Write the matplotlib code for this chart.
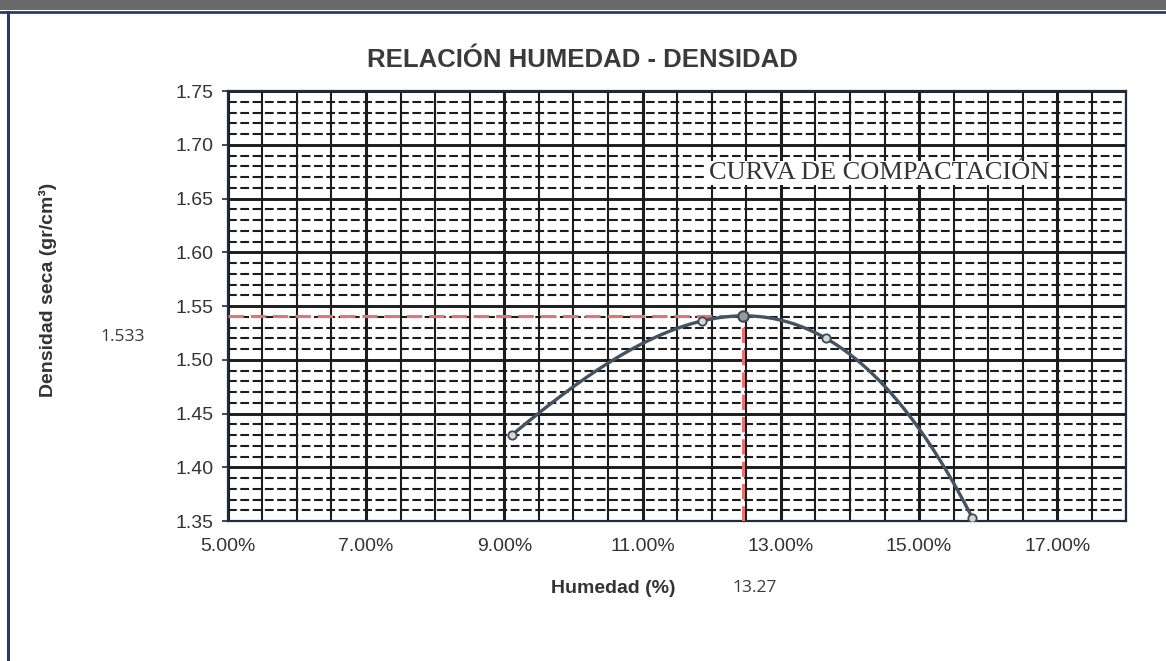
import numpy as np
import matplotlib
matplotlib.use("Agg")
import matplotlib.pyplot as plt
from matplotlib.ticker import MultipleLocator, FuncFormatter
from matplotlib.patches import Rectangle
from matplotlib.lines import Line2D

plt.rcParams['font.family'] = ['Liberation Sans', 'DejaVu Sans']

# data
humedad = [9.11, 11.86, 12.46, 13.65, 15.77]      # %
densidad = [1.430, 1.536, 1.541, 1.520, 1.353]    # gr/cm3
titulo = "RELACIÓN HUMEDAD - DENSIDAD"
etiqueta_curva = "CURVA DE COMPACTACIÓN"
txt_densidad_max = "1.533"
txt_humedad_opt = "13.27"
x_lim = (5, 18)
y_lim = (1.35, 1.75)

fig = plt.figure(figsize=(11.66, 6.61), dpi=100)
ax = fig.add_axes([0.1953, 0.2118, 0.7708, 0.6505])
ax.set_xlim(*x_lim)
ax.set_ylim(*y_lim)

grid_col = '#1c1c1c'
ax.xaxis.set_major_locator(MultipleLocator(2, offset=1))
ax.xaxis.set_minor_locator(MultipleLocator(0.5))
ax.yaxis.set_major_locator(MultipleLocator(0.05))
ax.yaxis.set_minor_locator(MultipleLocator(0.01))
ax.xaxis.grid(True, which='major', color=grid_col, lw=2.2)
ax.xaxis.grid(True, which='minor', color=grid_col, lw=1.5)
ax.yaxis.grid(True, which='major', color=grid_col, lw=2.1)
ax.yaxis.grid(True, which='minor', color=grid_col, lw=1.5, linestyle=(0, (4.2, 1.7)))
ax.set_axisbelow(True)

ax.xaxis.set_major_formatter(FuncFormatter(lambda v, p: f"{v:.2f}%"))
ax.yaxis.set_major_formatter(FuncFormatter(lambda v, p: f"{v:.2f}"))
ax.tick_params(axis='x', which='both', length=0, pad=12, labelsize=14, labelcolor='#333333')
ax.tick_params(axis='y', which='major', length=4, width=1.2, color='#1f2a44', pad=6,
               labelsize=14, labelcolor='#333333')
ax.tick_params(axis='y', which='minor', length=0)
for s in ax.spines.values():
    s.set_color('#1f2a44')
    s.set_linewidth(1.6)

# peak point -> red reference lines
i_max = int(np.argmax(densidad))
x_opt, y_opt = humedad[i_max], densidad[i_max]
rojo = '#e57373'
ax.plot([x_lim[0], x_opt], [y_opt, y_opt], color=rojo, lw=2.2, ls=(0, (5, 2.3)), zorder=3)
ax.plot([x_opt, x_opt], [y_lim[0], y_opt], color=rojo, lw=2.2, ls=(0, (5, 2.3)), zorder=3)

# compaction curve: 3rd order polynomial trend through the points
coef = np.polyfit(humedad, densidad, 3)
xx = np.linspace(humedad[0], humedad[-1], 200)
ax.plot(xx, np.polyval(coef, xx), color='#435363', lw=2.4, zorder=4)

ax.plot(humedad, densidad, ls='none', marker='o', ms=6, mfc='#d6d6d6', mec='#3a4a5a', mew=1.3, zorder=6)
ax.plot([x_opt], [y_opt], ls='none', marker='o', ms=7.5, mfc='#9a9a9a', mec='#3a4a5a', mew=1.5, zorder=7)

ax.text(0.7246, 0.809, etiqueta_curva, transform=ax.transAxes, ha='center', va='center',
        family=['Liberation Serif', 'DejaVu Serif'], fontsize=19, color='#333333',
        bbox=dict(facecolor='white', edgecolor='none', pad=1), zorder=8)

fig.text(0.4993, 0.9092, titulo, ha='center', va='center', fontsize=18.5,
         fontweight='bold', color='#3a3a3a')
fig.text(0.0412, 0.5613, "Densidad seca (gr/cm³)", rotation=90, ha='center', va='center',
         fontsize=14, fontweight='bold', color='#333333')
fig.text(0.5257, 0.1104, "Humedad (%)", ha='center', va='center', fontsize=14,
         fontweight='bold', color='#333333')
fig.text(0.1051, 0.4906, txt_densidad_max, ha='center', va='center', fontsize=12.5,
         family=['Open Sans', 'DejaVu Sans'], color='#3a3a3a')
fig.text(0.6475, 0.1104, txt_humedad_opt, ha='center', va='center', fontsize=12.5,
         family=['Open Sans', 'DejaVu Sans'], color='#3a3a3a')

# page frame from the scanned sheet
fig.patches.append(Rectangle((0, 1 - 10 / 661), 1, 10 / 661, transform=fig.transFigure,
                             facecolor='#6a6a6a', edgecolor='none'))
fig.lines.append(Line2D([0, 1], [1 - 12 / 661, 1 - 12 / 661], transform=fig.transFigure,
                        color='#2a3a6a', lw=2))
fig.lines.append(Line2D([7.5 / 1166, 7.5 / 1166], [0, 1 - 12 / 661], transform=fig.transFigure,
                        color='#2a3a6a', lw=2.2))

fig.savefig("out.png", dpi=100)
